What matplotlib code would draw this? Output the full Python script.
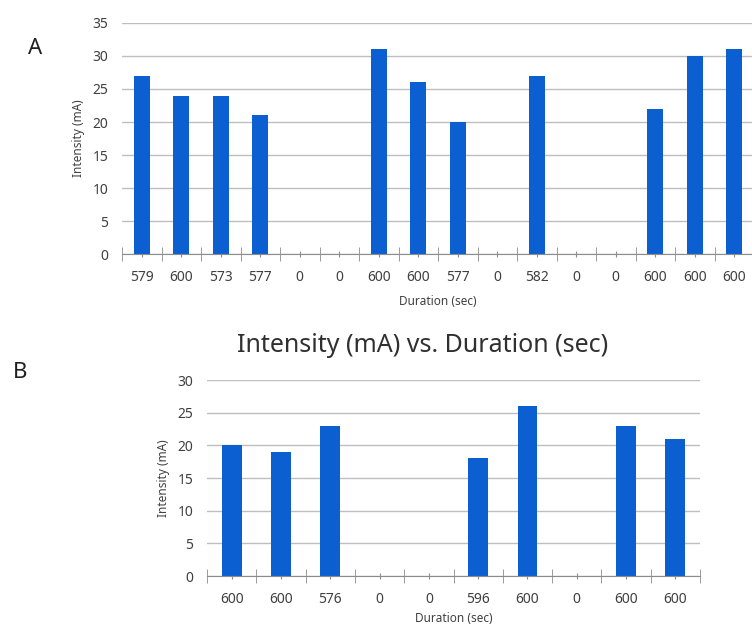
import numpy as np
import matplotlib.pyplot as plt

# panel A
dur_a = ['579', '600', '573', '577', '0', '0', '600', '600', '577', '0', '582', '0', '0', '600', '600', '600']
amp_a = [27, 24, 24, 21, 0, 0, 31, 26, 20, 0, 27, 0, 0, 22, 30, 31]

# panel B
dur_b = ['600', '600', '576', '0', '0', '596', '600', '0', '600', '600']
amp_b = [20, 19, 23, 0, 0, 18, 26, 0, 23, 21]

bar_color = '#0B5FD0'
grid_color = '#BEBEBE'
text_color = '#404040'

plt.rcParams['font.family'] = ['Noto Sans', 'DejaVu Sans']


def draw_panel(ax, labels, values, ymax, xpad):
    x = np.arange(len(values))
    ax.bar(x, values, width=0.4, color=bar_color, zorder=3)
    ax.set_xlim(-0.5, len(values) - 0.5)
    ax.set_ylim(0, ymax)
    ax.set_yticks(np.arange(0, ymax + 1, 5))
    ax.yaxis.grid(True, color=grid_color, linewidth=1)
    ax.set_axisbelow(True)
    for s in ['left', 'right', 'top']:
        ax.spines[s].set_visible(False)
    ax.spines['bottom'].set_color('#8C8C8C')
    ax.spines['bottom'].set_zorder(4)
    ax.set_xticks(x)
    ax.set_xticklabels(labels)
    ax.set_xticks(np.arange(-0.5, len(values)), minor=True)
    ax.tick_params(axis='x', which='major', direction='inout', length=5, color='#8C8C8C',
                   labelsize=10, labelcolor=text_color, pad=9)
    ax.tick_params(axis='x', which='minor', direction='inout', length=10, color='#8C8C8C')
    ax.tick_params(axis='y', length=0, labelsize=10, labelcolor=text_color, pad=10)
    ax.set_xlabel('Duration (sec)', fontsize=8.5, color=text_color, labelpad=xpad)
    ax.set_ylabel('Intensity (mA)', fontsize=8.5, color=text_color, labelpad=5)


fig = plt.figure(figsize=(7.52, 6.28), dpi=100)

ax_a = fig.add_axes([122 / 752, 0.5955, 632 / 752, 0.3679])
draw_panel(ax_a, dur_a, amp_a, 35, 7)

ax_b = fig.add_axes([207 / 752, 0.0828, 493 / 752, 0.3121])
draw_panel(ax_b, dur_b, amp_b, 30, 3.5)

fig.text(423 / 752, 1 - 345 / 628, 'Intensity (mA) vs. Duration (sec)', fontsize=18,
         color='#303030', ha='center', va='center')
fig.text(35 / 752, 1 - 48 / 628, 'A', fontsize=16, color='#202020', ha='center', va='center')
fig.text(20 / 752, 1 - 372 / 628, 'B', fontsize=16, color='#202020', ha='center', va='center')

fig.savefig('out.png', dpi=100)
